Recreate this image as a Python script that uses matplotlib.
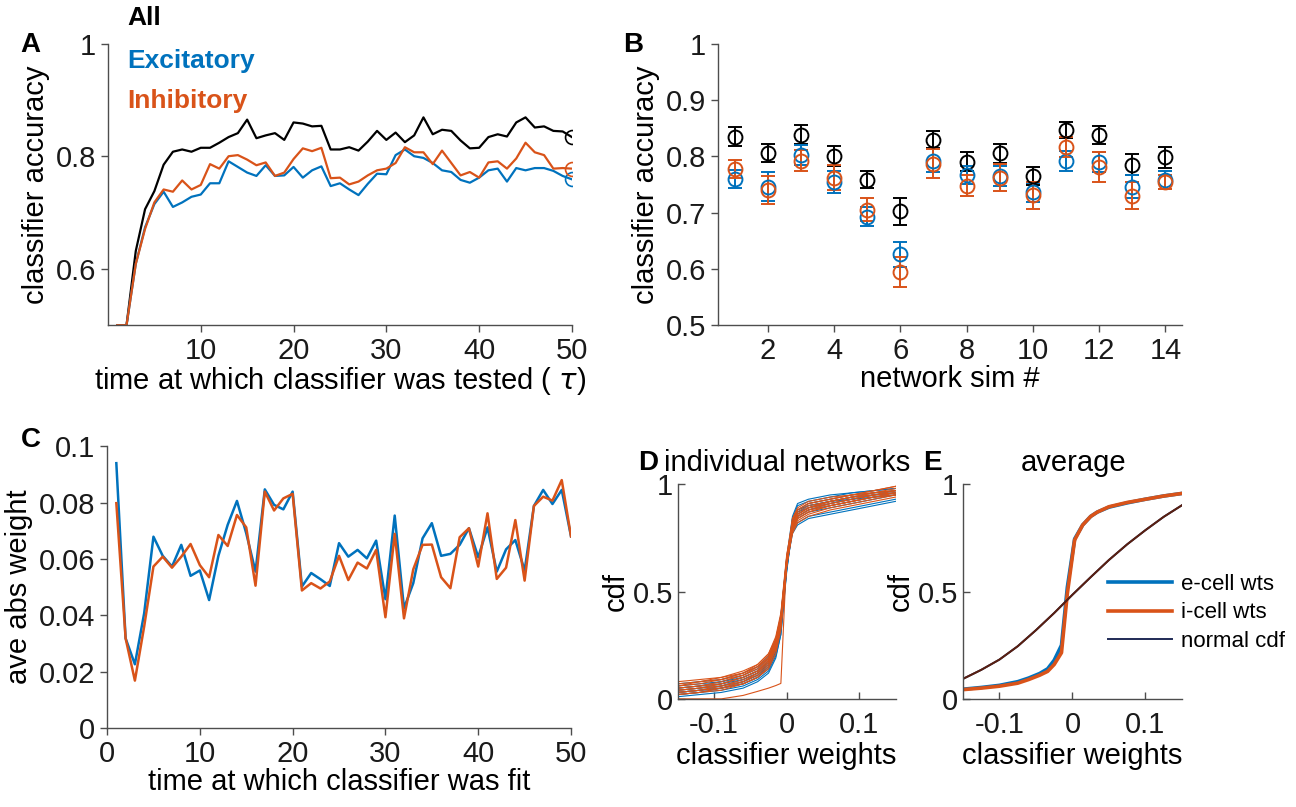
import numpy as np
import matplotlib
matplotlib.use("Agg")
import matplotlib.pyplot as plt

plt.rcParams['font.family'] = ['Liberation Sans', 'DejaVu Sans']
plt.rcParams['font.size'] = 21
plt.rcParams['mathtext.fontset'] = 'dejavusans'

BLUE = '#0072BD'
ORANGE = '#D95319'
AXC = '#4d4d4d'
FS = 21

# ---- panel A: accuracy vs test time
t_a = np.arange(1, 51)
acc_all = [0.5, 0.5, 0.632, 0.706, 0.738, 0.785, 0.808, 0.812, 0.808, 0.815,
           0.815, 0.824, 0.834, 0.841, 0.865, 0.832, 0.837, 0.841, 0.829, 0.86,
           0.858, 0.853, 0.854, 0.812, 0.812, 0.816, 0.81, 0.826, 0.845, 0.829,
           0.842, 0.825, 0.837, 0.869, 0.839, 0.847, 0.845, 0.828, 0.814, 0.815,
           0.834, 0.839, 0.835, 0.86, 0.869, 0.851, 0.853, 0.845, 0.844, 0.834]
acc_exc = [0.5, 0.5, 0.609, 0.674, 0.715, 0.737, 0.71, 0.718, 0.728, 0.732,
           0.752, 0.752, 0.791, 0.781, 0.771, 0.765, 0.784, 0.765, 0.766, 0.781,
           0.762, 0.775, 0.782, 0.747, 0.752, 0.741, 0.731, 0.751, 0.769, 0.768,
           0.802, 0.812, 0.8, 0.797, 0.788, 0.775, 0.772, 0.758, 0.753, 0.762,
           0.775, 0.778, 0.755, 0.779, 0.775, 0.779, 0.779, 0.774, 0.765, 0.759]
acc_inh = [0.5, 0.5, 0.609, 0.671, 0.718, 0.741, 0.737, 0.757, 0.741, 0.749,
           0.786, 0.778, 0.8, 0.802, 0.794, 0.784, 0.789, 0.765, 0.771, 0.795,
           0.814, 0.809, 0.815, 0.761, 0.762, 0.75, 0.755, 0.766, 0.775, 0.778,
           0.788, 0.816, 0.807, 0.807, 0.786, 0.81, 0.788, 0.766, 0.772, 0.762,
           0.789, 0.791, 0.778, 0.796, 0.824, 0.807, 0.802, 0.778, 0.779, 0.778]

# ---- panel B: accuracy per network sim (mean, error)
sims = np.arange(1, 15)
b_all = [0.835, 0.806, 0.838, 0.8, 0.758, 0.702, 0.829, 0.79, 0.805, 0.765, 0.846, 0.837, 0.785, 0.798]
b_all_err = [0.017, 0.016, 0.017, 0.018, 0.015, 0.024, 0.015, 0.017, 0.017, 0.016, 0.014, 0.016, 0.019, 0.018]
b_exc = [0.759, 0.746, 0.802, 0.754, 0.693, 0.626, 0.792, 0.767, 0.765, 0.736, 0.791, 0.79, 0.746, 0.758]
b_exc_err = [0.016, 0.026, 0.018, 0.019, 0.017, 0.022, 0.02, 0.016, 0.018, 0.017, 0.018, 0.018, 0.02, 0.016]
b_inh = [0.778, 0.74, 0.792, 0.762, 0.705, 0.595, 0.787, 0.748, 0.762, 0.731, 0.816, 0.781, 0.73, 0.754]
b_inh_err = [0.016, 0.025, 0.019, 0.022, 0.02, 0.027, 0.026, 0.018, 0.024, 0.024, 0.018, 0.026, 0.024, 0.012]

# ---- panel C: average absolute weight vs fit time
t_c = np.arange(1, 51)
w_exc = [0.094, 0.0318, 0.0226, 0.0407, 0.0679, 0.0611, 0.0573, 0.065, 0.054, 0.0559,
         0.0454, 0.0611, 0.0721, 0.0806, 0.0691, 0.0555, 0.0847, 0.0792, 0.0776, 0.0839,
         0.0502, 0.055, 0.0528, 0.0504, 0.0656, 0.0608, 0.0632, 0.0602, 0.0665, 0.0457,
         0.0754, 0.0425, 0.0514, 0.0673, 0.0727, 0.0611, 0.0618, 0.065, 0.0709, 0.0606,
         0.0712, 0.0555, 0.0634, 0.0667, 0.0559, 0.0788, 0.0845, 0.0795, 0.0845, 0.068]
w_inh = [0.0798, 0.0318, 0.0168, 0.036, 0.0573, 0.0608, 0.0569, 0.0608, 0.0653, 0.0578,
         0.0535, 0.0685, 0.0646, 0.0756, 0.0712, 0.0505, 0.0839, 0.0772, 0.0815, 0.0831,
         0.0488, 0.0514, 0.0495, 0.052, 0.0611, 0.0525, 0.0587, 0.0566, 0.0632, 0.0393,
         0.0689, 0.0389, 0.0563, 0.065, 0.0651, 0.0535, 0.0496, 0.0677, 0.0709, 0.0573,
         0.0762, 0.0529, 0.0569, 0.0738, 0.0523, 0.0788, 0.0821, 0.0807, 0.088, 0.068]

# ---- panel D: cdf of weights, individual networks
w_grid = [-0.15, -0.12, -0.09, -0.06, -0.04, -0.025, -0.015, -0.008, 0.0,
          0.008, 0.015, 0.03, 0.06, 0.09, 0.12, 0.15]
cdf_exc_nets = [
    [0.02, 0.03, 0.04, 0.06, 0.09, 0.13, 0.20, 0.30, 0.60, 0.82, 0.88, 0.91, 0.93, 0.95, 0.96, 0.97],
    [0.04, 0.05, 0.06, 0.09, 0.12, 0.17, 0.24, 0.36, 0.63, 0.80, 0.85, 0.88, 0.90, 0.92, 0.94, 0.95],
    [0.03, 0.04, 0.05, 0.07, 0.10, 0.14, 0.21, 0.32, 0.61, 0.84, 0.90, 0.92, 0.94, 0.96, 0.97, 0.98],
    [0.05, 0.06, 0.07, 0.10, 0.13, 0.18, 0.26, 0.37, 0.64, 0.78, 0.82, 0.85, 0.87, 0.89, 0.91, 0.93],
    [0.01, 0.02, 0.03, 0.05, 0.08, 0.12, 0.19, 0.30, 0.59, 0.81, 0.87, 0.90, 0.92, 0.94, 0.96, 0.97],
    [0.06, 0.07, 0.08, 0.11, 0.14, 0.19, 0.27, 0.38, 0.65, 0.79, 0.84, 0.87, 0.89, 0.91, 0.93, 0.95],
    [0.03, 0.04, 0.06, 0.08, 0.11, 0.16, 0.23, 0.34, 0.62, 0.83, 0.88, 0.90, 0.92, 0.93, 0.95, 0.96],
    [0.02, 0.03, 0.05, 0.07, 0.10, 0.15, 0.22, 0.33, 0.61, 0.80, 0.86, 0.89, 0.91, 0.93, 0.94, 0.96],
    [0.04, 0.05, 0.07, 0.09, 0.12, 0.16, 0.23, 0.35, 0.62, 0.77, 0.81, 0.84, 0.86, 0.88, 0.90, 0.92],
    [0.07, 0.08, 0.09, 0.12, 0.15, 0.20, 0.28, 0.39, 0.66, 0.85, 0.91, 0.93, 0.95, 0.96, 0.97, 0.98],
    [0.03, 0.04, 0.05, 0.08, 0.11, 0.15, 0.22, 0.33, 0.60, 0.79, 0.85, 0.88, 0.91, 0.93, 0.95, 0.97],
    [0.05, 0.06, 0.08, 0.10, 0.13, 0.17, 0.25, 0.36, 0.63, 0.82, 0.87, 0.89, 0.92, 0.94, 0.95, 0.96],
]
cdf_inh_nets = [
    [0.05, 0.06, 0.08, 0.11, 0.14, 0.19, 0.27, 0.38, 0.66, 0.80, 0.85, 0.88, 0.91, 0.93, 0.95, 0.97],
    [0.07, 0.08, 0.09, 0.12, 0.16, 0.21, 0.29, 0.40, 0.67, 0.82, 0.87, 0.90, 0.92, 0.94, 0.96, 0.98],
    [0.03, 0.04, 0.06, 0.08, 0.11, 0.16, 0.23, 0.34, 0.62, 0.78, 0.83, 0.86, 0.89, 0.91, 0.93, 0.95],
    [0.04, 0.05, 0.07, 0.10, 0.13, 0.18, 0.25, 0.36, 0.64, 0.81, 0.86, 0.89, 0.92, 0.94, 0.95, 0.96],
    [0.06, 0.07, 0.09, 0.11, 0.15, 0.20, 0.27, 0.39, 0.65, 0.79, 0.84, 0.87, 0.90, 0.92, 0.94, 0.95],
    [0.02, 0.03, 0.05, 0.07, 0.10, 0.14, 0.21, 0.32, 0.61, 0.83, 0.88, 0.91, 0.93, 0.95, 0.96, 0.97],
    [0.08, 0.09, 0.10, 0.12, 0.15, 0.19, 0.26, 0.37, 0.64, 0.80, 0.86, 0.89, 0.91, 0.93, 0.95, 0.96],
    [0.04, 0.05, 0.06, 0.09, 0.12, 0.17, 0.24, 0.35, 0.63, 0.77, 0.82, 0.85, 0.88, 0.90, 0.92, 0.94],
    [0.05, 0.06, 0.07, 0.10, 0.13, 0.18, 0.26, 0.37, 0.64, 0.84, 0.89, 0.92, 0.94, 0.95, 0.97, 0.99],
    [0.03, 0.04, 0.05, 0.08, 0.12, 0.17, 0.25, 0.36, 0.63, 0.79, 0.84, 0.87, 0.90, 0.92, 0.94, 0.96],
    [0.06, 0.08, 0.10, 0.13, 0.16, 0.21, 0.28, 0.38, 0.65, 0.81, 0.86, 0.89, 0.92, 0.94, 0.96, 0.97],
    [0.02, 0.03, 0.04, 0.07, 0.10, 0.15, 0.23, 0.34, 0.62, 0.80, 0.85, 0.88, 0.90, 0.92, 0.94, 0.95],
    [0.00, 0.00, 0.00, 0.016, 0.035, 0.05, 0.062, 0.072, 0.66, 0.84, 0.88, 0.91, 0.93, 0.95, 0.97, 0.99],
]

# ---- panel E: averaged cdf + normal cdf
w_grid_e = [-0.15, -0.125, -0.1, -0.075, -0.06, -0.045, -0.034, -0.025, -0.015, -0.007,
            0.003, 0.014, 0.025, 0.034, 0.05, 0.075, 0.1, 0.125, 0.15]
cdf_exc_avg = [0.045, 0.053, 0.063, 0.08, 0.097, 0.118, 0.14, 0.18, 0.25, 0.52,
               0.745, 0.81, 0.85, 0.87, 0.893, 0.913, 0.93, 0.945, 0.957]
cdf_inh_avg = [0.043, 0.05, 0.059, 0.073, 0.09, 0.11, 0.128, 0.16, 0.215, 0.49,
               0.74, 0.81, 0.85, 0.87, 0.895, 0.915, 0.93, 0.945, 0.957]
w_grid_n = [-0.15, -0.125, -0.1, -0.075, -0.05, -0.025, 0.0, 0.025, 0.05, 0.075, 0.1, 0.125, 0.15]
cdf_normal = [0.093, 0.135, 0.183, 0.245, 0.32, 0.40, 0.485, 0.567, 0.647, 0.72, 0.786, 0.848, 0.902]


def style(ax, direction='out'):
    for s in ['top', 'right']:
        ax.spines[s].set_visible(False)
    for s in ['left', 'bottom']:
        ax.spines[s].set_color(AXC)
        ax.spines[s].set_linewidth(1.0)
    ax.tick_params(direction=direction, length=5, width=1.0, color=AXC,
                   labelcolor='#1a1a1a', labelsize=FS)
    if direction == 'in':
        ax.tick_params(axis='x', pad=9)


fig = plt.figure(figsize=(12.96, 8.07), dpi=100)

# A
axA = fig.add_axes([0.0833, 0.597, 0.358, 0.349])
axA.plot(t_a, acc_all, color='k', lw=1.6)
axA.plot(t_a, acc_exc, color=BLUE, lw=1.6)
axA.plot(t_a, acc_inh, color=ORANGE, lw=1.6)
axA.plot(t_a[-1], acc_all[-1], 'o', mfc='none', mec='k', ms=10, mew=1.2)
axA.plot(t_a[-1], acc_exc[-1], 'o', mfc='none', mec=BLUE, ms=10, mew=1.2)
axA.plot(t_a[-1], acc_inh[-1], 'o', mfc='none', mec=ORANGE, ms=10, mew=1.2)
axA.set_xlim(0, 50)
axA.set_ylim(0.5, 1)
axA.set_xticks([10, 20, 30, 40, 50])
axA.set_yticks([0.6, 0.8, 1])
axA.set_yticklabels(['0.6', '0.8', '1'])
axA.set_xlabel('time at which classifier was tested ( $\\tau$)', fontsize=FS, labelpad=0)
axA.set_ylabel('classifier accuracy', fontsize=FS)
style(axA)
fig.text(0.098, 0.978, 'All', color='k', fontsize=19, fontweight='bold', va='center')
fig.text(0.098, 0.924, 'Excitatory', color=BLUE, fontsize=19, fontweight='bold', va='center')
fig.text(0.098, 0.875, 'Inhibitory', color=ORANGE, fontsize=19, fontweight='bold', va='center')

# B
axB = fig.add_axes([0.554, 0.597, 0.358, 0.349])
for m, e, c in [(b_all, b_all_err, 'k'), (b_exc, b_exc_err, BLUE), (b_inh, b_inh_err, ORANGE)]:
    axB.errorbar(sims, m, yerr=e, fmt='o', mfc='none', mec=c, ecolor=c, ms=10,
                 mew=1.4, elinewidth=1.4, capsize=5, capthick=1.4)
axB.set_xlim(0.5, 14.5)
axB.set_ylim(0.5, 1)
axB.set_xticks([2, 4, 6, 8, 10, 12, 14])
axB.set_yticks([0.5, 0.6, 0.7, 0.8, 0.9, 1])
axB.set_yticklabels(['0.5', '0.6', '0.7', '0.8', '0.9', '1'])
axB.set_xlabel('network sim #', fontsize=FS, labelpad=0)
axB.set_ylabel('classifier accuracy', fontsize=FS)
style(axB)

# C
axC = fig.add_axes([0.0826, 0.098, 0.358, 0.349])
axC.plot(t_c, w_exc, color=BLUE, lw=1.8)
axC.plot(t_c, w_inh, color=ORANGE, lw=1.8)
axC.set_xlim(0, 50)
axC.set_ylim(0, 0.1)
axC.set_xticks([0, 10, 20, 30, 40, 50])
axC.set_yticks([0, 0.02, 0.04, 0.06, 0.08, 0.1])
axC.set_yticklabels(['0', '0.02', '0.04', '0.06', '0.08', '0.1'])
axC.set_xlabel('time at which classifier was fit', fontsize=FS, labelpad=0)
axC.set_ylabel('ave abs weight', fontsize=FS)
style(axC)

# D
axD = fig.add_axes([0.523, 0.134, 0.168, 0.266])
for c in cdf_exc_nets:
    axD.plot(w_grid, c, color=BLUE, lw=0.8)
for c in cdf_inh_nets:
    axD.plot(w_grid, c, color=ORANGE, lw=0.8)
axD.set_xlim(-0.15, 0.15)
axD.set_ylim(0, 1)
axD.set_xticks([-0.1, 0, 0.1])
axD.set_xticklabels(['-0.1', '0', '0.1'])
axD.set_yticks([0, 0.5, 1])
axD.set_yticklabels(['0', '0.5', '1'])
axD.set_xlabel('classifier weights', fontsize=FS, labelpad=2)
axD.set_ylabel('cdf', fontsize=FS, labelpad=2)
style(axD, 'in')

# E
axE = fig.add_axes([0.743, 0.134, 0.169, 0.266])
axE.plot(w_grid_e, cdf_exc_avg, color=BLUE, lw=2.6, label='e-cell wts')
axE.plot(w_grid_e, cdf_inh_avg, color=ORANGE, lw=2.6, label='i-cell wts')
axE.plot(w_grid_n, cdf_normal, color='#1f2a55', lw=1.4, label='normal cdf')
axE.plot(w_grid_n, cdf_normal, color='#5a1f10', lw=1.4)
axE.set_xlim(-0.15, 0.15)
axE.set_ylim(0, 1)
axE.set_xticks([-0.1, 0, 0.1])
axE.set_xticklabels(['-0.1', '0', '0.1'])
axE.set_yticks([0, 0.5, 1])
axE.set_yticklabels(['0', '0.5', '1'])
axE.set_xlabel('classifier weights', fontsize=FS, labelpad=2)
axE.set_ylabel('cdf', fontsize=FS, labelpad=2)
style(axE, 'in')
axE.legend(loc='center left', bbox_to_anchor=(0.62, 0.40), frameon=False, fontsize=16,
           handlelength=2.9, handletextpad=0.4, labelspacing=0.35, borderaxespad=0)

# panel letters and titles
fig.text(0.016, 0.944, 'A', fontsize=20, fontweight='bold', va='center')
fig.text(0.481, 0.944, 'B', fontsize=20, fontweight='bold', va='center')
fig.text(0.016, 0.455, 'C', fontsize=20, fontweight='bold', va='center')
fig.text(0.492, 0.426, 'D', fontsize=20, fontweight='bold', va='center')
fig.text(0.512, 0.426, 'individual networks', fontsize=FS, va='center')
fig.text(0.712, 0.426, 'E', fontsize=20, fontweight='bold', va='center')
fig.text(0.828, 0.426, 'average', fontsize=FS, va='center', ha='center')

fig.savefig('out.png', dpi=100)
